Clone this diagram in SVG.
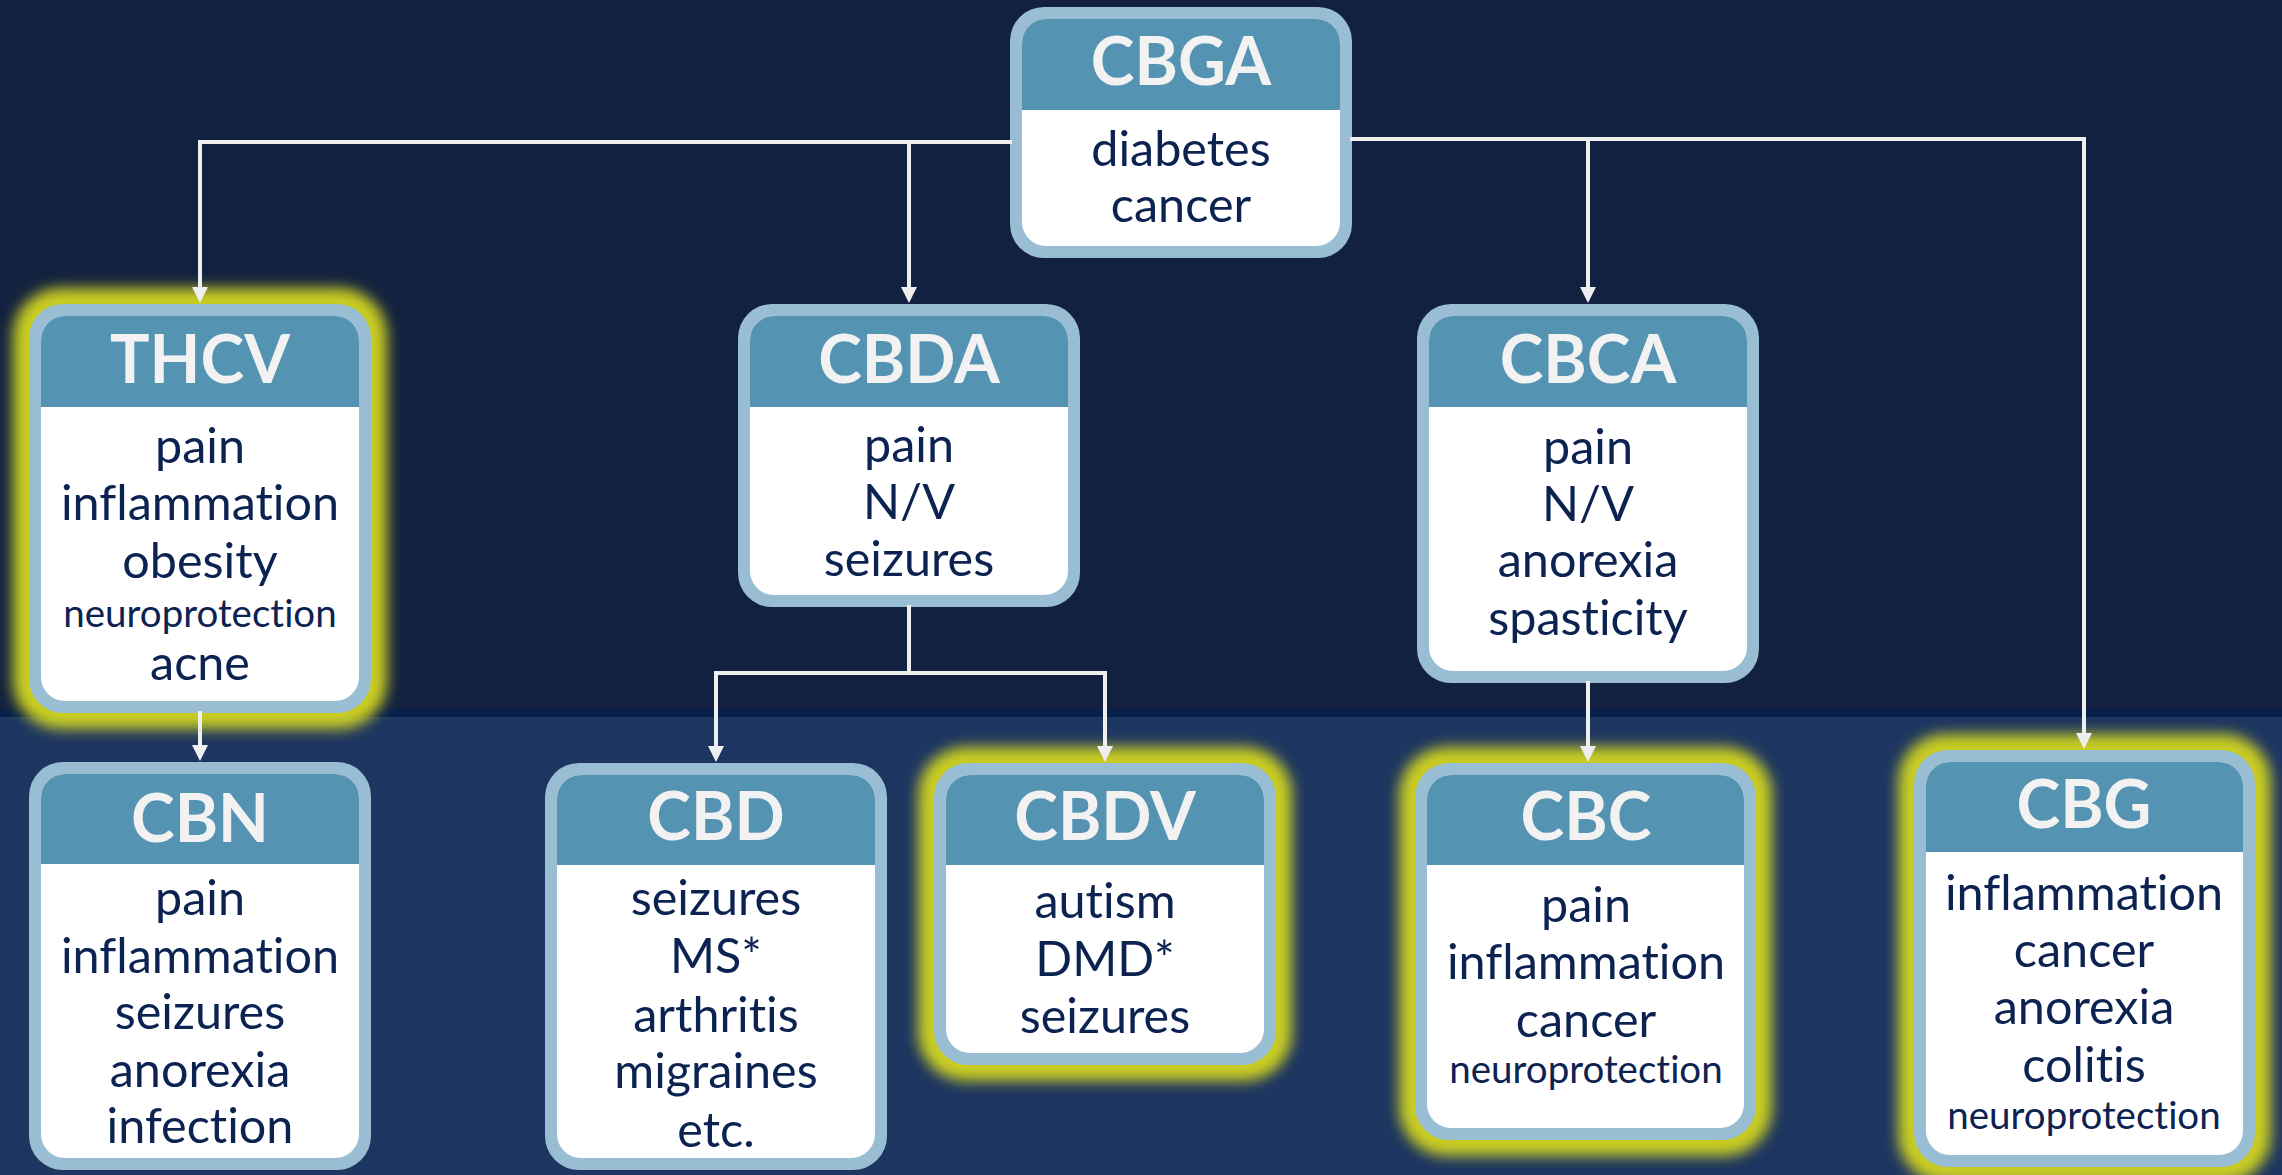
<svg xmlns="http://www.w3.org/2000/svg" width="2282" height="1175" viewBox="0 0 2282 1175">
<defs>
<style>
.outer{fill:#99bed3}
.inner{fill:#ffffff}
.head{fill:#5593b3}
text{font-variant-ligatures:none;font-feature-settings:"liga" 0,"dlig" 0}
.title{font-family:Lato,"Liberation Sans",sans-serif;font-weight:700;font-size:66px;fill:#f2f2f2;text-anchor:middle}
.body{font-family:Lato,"Liberation Sans",sans-serif;font-weight:400;font-size:48.5px;fill:#0c2352;text-anchor:middle}
.small{font-size:38.5px}
.glow{fill:#c9cd20;filter:url(#blur)}
.conn{stroke:#eeeeee;stroke-width:4;fill:none;stroke-linecap:square}
</style>
<filter id="blur" x="-20%" y="-20%" width="140%" height="140%">
<feGaussianBlur stdDeviation="7"/>
</filter>
<marker id="arr" markerUnits="userSpaceOnUse" markerWidth="17" markerHeight="17" viewBox="0 0 17 17" refX="5" refY="8.5" orient="auto">
<path d="M0,0.5 L16,8.5 L0,16.5 z" fill="#eeeeee"/>
</marker>
</defs>
<rect x="0" y="0" width="2282" height="1175" fill="#12213f"/>
<rect x="0" y="710" width="2282" height="465" fill="#1d3561"/>
<rect x="0" y="710" width="2282" height="7" fill="#071f4b"/>

<g id="CBGA">
<rect class="outer" x="1010" y="7" width="342" height="251" rx="34"/>
<rect class="inner" x="1022" y="19" width="318" height="227" rx="24"/>
<path class="head" d="M1022,110 V43 A24,24 0 0 1 1046,19 H1316 A24,24 0 0 1 1340,43 V110 Z"/>
<text class="title" x="1181" y="85">CBGA</text>
<text class="body" x="1181" y="166">diabetes</text>
<text class="body" x="1181" y="222">cancer</text>
</g>

<g id="THCV">
<rect class="glow" x="13" y="288" width="374" height="441" rx="48"/>
<rect class="outer" x="29" y="304" width="342" height="409" rx="34"/>
<rect class="inner" x="41" y="316" width="318" height="385" rx="24"/>
<path class="head" d="M41,407 V340 A24,24 0 0 1 65,316 H335 A24,24 0 0 1 359,340 V407 Z"/>
<text class="title" x="200" y="383">THCV</text>
<text class="body" x="200" y="463">pain</text>
<text class="body" x="200" y="520">inflammation</text>
<text class="body" x="200" y="578">obesity</text>
<text class="body small" x="200" y="627">neuroprotection</text>
<text class="body" x="200" y="680">acne</text>
</g>

<g id="CBDA">
<rect class="outer" x="738" y="304" width="342" height="303" rx="34"/>
<rect class="inner" x="750" y="316" width="318" height="279" rx="24"/>
<path class="head" d="M750,407 V340 A24,24 0 0 1 774,316 H1044 A24,24 0 0 1 1068,340 V407 Z"/>
<text class="title" x="909" y="383">CBDA</text>
<text class="body" x="909" y="462">pain</text>
<text class="body" x="909" y="519">N/V</text>
<text class="body" x="909" y="576">seizures</text>
</g>

<g id="CBCA">
<rect class="outer" x="1417" y="304" width="342" height="379" rx="34"/>
<rect class="inner" x="1429" y="316" width="318" height="355" rx="24"/>
<path class="head" d="M1429,407 V340 A24,24 0 0 1 1453,316 H1723 A24,24 0 0 1 1747,340 V407 Z"/>
<text class="title" x="1588" y="383">CBCA</text>
<text class="body" x="1588" y="464">pain</text>
<text class="body" x="1588" y="521">N/V</text>
<text class="body" x="1588" y="577">anorexia</text>
<text class="body" x="1588" y="635">spasticity</text>
</g>

<g id="CBN">
<rect class="outer" x="29" y="762" width="342" height="408" rx="34"/>
<rect class="inner" x="41" y="774" width="318" height="384" rx="24"/>
<path class="head" d="M41,864 V798 A24,24 0 0 1 65,774 H335 A24,24 0 0 1 359,798 V864 Z"/>
<text class="title" x="200" y="842">CBN</text>
<text class="body" x="200" y="915">pain</text>
<text class="body" x="200" y="973">inflammation</text>
<text class="body" x="200" y="1029">seizures</text>
<text class="body" x="200" y="1087">anorexia</text>
<text class="body" x="200" y="1143">infection</text>
</g>

<g id="CBD">
<rect class="outer" x="545" y="763" width="342" height="407" rx="34"/>
<rect class="inner" x="557" y="775" width="318" height="383" rx="24"/>
<path class="head" d="M557,865 V799 A24,24 0 0 1 581,775 H851 A24,24 0 0 1 875,799 V865 Z"/>
<text class="title" x="716" y="840">CBD</text>
<text class="body" x="716" y="915">seizures</text>
<text class="body" x="716" y="973">MS*</text>
<text class="body" x="716" y="1032">arthritis</text>
<text class="body" x="716" y="1088">migraines</text>
<text class="body" x="716" y="1147">etc.</text>
</g>

<g id="CBDV">
<rect class="glow" x="918" y="747" width="374" height="334" rx="48"/>
<rect class="outer" x="934" y="763" width="342" height="302" rx="34"/>
<rect class="inner" x="946" y="775" width="318" height="278" rx="24"/>
<path class="head" d="M946,865 V799 A24,24 0 0 1 970,775 H1240 A24,24 0 0 1 1264,799 V865 Z"/>
<text class="title" x="1105" y="840">CBDV</text>
<text class="body" x="1105" y="918">autism</text>
<text class="body" x="1105" y="976">DMD*</text>
<text class="body" x="1105" y="1033">seizures</text>
</g>

<g id="CBC">
<rect class="glow" x="1399" y="747" width="373" height="409" rx="48"/>
<rect class="outer" x="1415" y="763" width="341" height="377" rx="34"/>
<rect class="inner" x="1427" y="775" width="317" height="353" rx="24"/>
<path class="head" d="M1427,865 V799 A24,24 0 0 1 1451,775 H1720 A24,24 0 0 1 1744,799 V865 Z"/>
<text class="title" x="1586" y="840">CBC</text>
<text class="body" x="1586" y="922">pain</text>
<text class="body" x="1586" y="979">inflammation</text>
<text class="body" x="1586" y="1037">cancer</text>
<text class="body small" x="1586" y="1083">neuroprotection</text>
</g>

<g id="CBG">
<rect class="glow" x="1898" y="734" width="373" height="449" rx="48"/>
<rect class="outer" x="1914" y="750" width="341" height="417" rx="34"/>
<rect class="inner" x="1926" y="762" width="317" height="393" rx="24"/>
<path class="head" d="M1926,852 V786 A24,24 0 0 1 1950,762 H2219 A24,24 0 0 1 2243,786 V852 Z"/>
<text class="title" x="2084" y="828">CBG</text>
<text class="body" x="2084" y="910">inflammation</text>
<text class="body" x="2084" y="967">cancer</text>
<text class="body" x="2084" y="1024">anorexia</text>
<text class="body" x="2084" y="1082">colitis</text>
<text class="body small" x="2084" y="1129">neuroprotection</text>
</g>

<g id="connectors">
<path class="conn" d="M1010,142 H200 V292" marker-end="url(#arr)"/>
<path class="conn" d="M909,142 V292" marker-end="url(#arr)"/>
<path class="conn" d="M1352,139 H2084 V738" marker-end="url(#arr)"/>
<path class="conn" d="M1588,139 V292" marker-end="url(#arr)"/>
<path class="conn" d="M200,713 V750" marker-end="url(#arr)"/>
<path class="conn" d="M909,607 V673"/>
<path class="conn" d="M716,673 H1105"/>
<path class="conn" d="M716,673 V751" marker-end="url(#arr)"/>
<path class="conn" d="M1105,673 V751" marker-end="url(#arr)"/>
<path class="conn" d="M1588,683 V751" marker-end="url(#arr)"/>
</g>
</svg>
